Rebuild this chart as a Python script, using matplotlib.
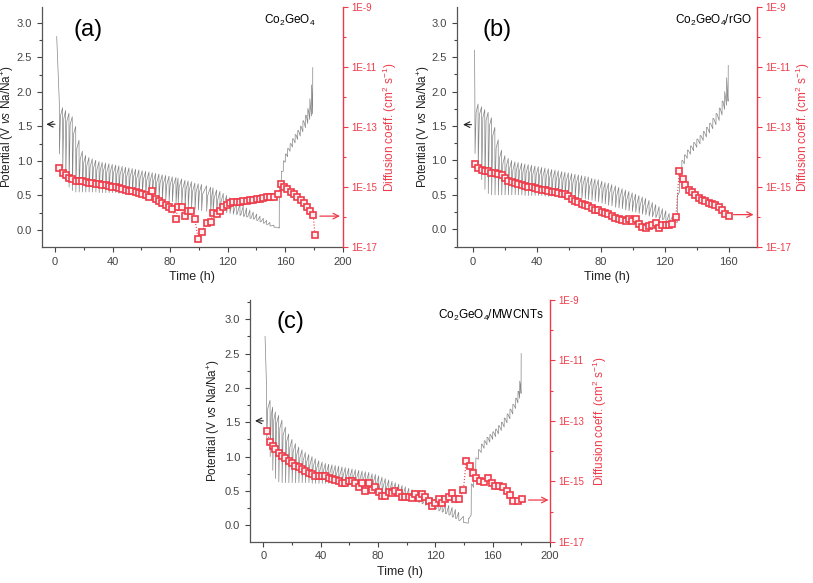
import numpy as np
import matplotlib.pyplot as plt
from matplotlib.ticker import MultipleLocator, FixedLocator, FuncFormatter, NullFormatter

plt.rcParams['font.family'] = ['Liberation Sans', 'DejaVu Sans']
plt.rcParams['mathtext.fontset'] = 'custom'
plt.rcParams['mathtext.rm'] = 'Liberation Sans'
plt.rcParams['mathtext.it'] = 'Liberation Sans:italic'

RED = '#ee3b4a'
GREY = '#858585'
DIP = 0.12  # how far below the new OCV the relaxation line lands

# ---------------- (a) Co2GeO4 ----------------
a_start = (1.2, 2.80)
a_t_dis = [3.0, 5.3, 7.4, 9.7, 12.0, 14.4, 16.7, 19.0, 21.3, 23.6,
           25.9, 28.3, 30.6, 32.8, 35.2, 37.5, 39.8, 42.2, 44.4, 46.7,
           49.1, 51.4, 53.7, 56.0, 58.3, 60.6, 63.0, 65.3, 67.6, 69.9,
           72.2, 74.5, 76.9, 79.2, 81.5, 84.0, 85.5, 88.0, 90.3, 92.5,
           94.8, 97.2, 99.5, 101.8, 105.3, 108.1, 109.8, 112.3, 114.6, 116.9,
           119.2, 121.5, 123.8, 126.2, 128.5, 130.8, 133.1, 135.4, 137.7, 140.1,
           142.4, 144.7, 147.0, 149.3, 152.1, 155.1]
a_v_top = [1.85, 1.77, 1.73, 1.69, 1.64, 1.50, 1.30, 1.14, 1.08, 1.05,
           1.03, 1.01, 0.99, 0.98, 0.97, 0.96, 0.95, 0.94, 0.93, 0.92,
           0.91, 0.90, 0.89, 0.88, 0.87, 0.86, 0.85, 0.84, 0.83, 0.82,
           0.81, 0.80, 0.79, 0.78, 0.77, 0.76, 0.75, 0.74, 0.72, 0.71,
           0.70, 0.68, 0.67, 0.66, 0.64, 0.62, 0.61, 0.58, 0.56, 0.53,
           0.50, 0.47, 0.44, 0.41, 0.38, 0.35, 0.32, 0.29, 0.26, 0.23,
           0.20, 0.17, 0.14, 0.11, 0.07, 0.04]
a_v_bot = [1.10, 0.90, 0.72, 0.62, 0.57, 0.55, 0.55, 0.55, 0.55, 0.55,
           0.55, 0.55, 0.54, 0.54, 0.54, 0.54, 0.54, 0.54, 0.53, 0.53,
           0.53, 0.53, 0.53, 0.52, 0.52, 0.52, 0.51, 0.50, 0.49, 0.48,
           0.46, 0.45, 0.44, 0.42, 0.41, 0.39, 0.38, 0.36, 0.34, 0.33,
           0.32, 0.30, 0.29, 0.28, 0.27, 0.27, 0.27, 0.26, 0.26, 0.25,
           0.25, 0.24, 0.23, 0.22, 0.21, 0.20, 0.19, 0.17, 0.16, 0.14,
           0.12, 0.10, 0.08, 0.06, 0.04, 0.03]
a_t_chg = [155.8, 157.2, 158.6, 160.0, 161.6, 163.3, 165.0, 166.8,
           168.6, 170.4, 172.2, 174.0, 175.6, 177.0, 178.2, 179.0]
a_v_low = [0.10, 0.55, 0.85, 0.98, 1.06, 1.14, 1.20, 1.26,
           1.31, 1.36, 1.42, 1.48, 1.54, 1.60, 1.65, 1.68]
a_v_high = [0.60, 0.85, 1.00, 1.10, 1.18, 1.25, 1.32, 1.38,
            1.44, 1.50, 1.58, 1.66, 1.76, 1.90, 2.10, 2.35]
a_d_t = a_t_dis + [156.7, 159.0, 161.3, 163.7, 166.0, 168.3, 170.6, 173.0,
                   175.2, 177.5, 179.4, 180.6]
a_d_log = [-14.38, -14.52, -14.61, -14.69, -14.74, -14.79, -14.80, -14.80, -14.83, -14.86,
           -14.88, -14.89, -14.91, -14.92, -14.94, -14.97, -14.99, -15.01, -15.03, -15.08,
           -15.10, -15.12, -15.14, -15.18, -15.20, -15.23, -15.28, -15.32, -15.12, -15.39,
           -15.47, -15.52, -15.59, -15.66, -15.72, -16.06, -15.66, -15.66, -15.98, -15.80,
           -15.80, -16.07, -16.73, -16.51, -16.19, -16.17, -15.86, -15.90, -15.79, -15.68,
           -15.60, -15.54, -15.51, -15.49, -15.49, -15.47, -15.47, -15.44, -15.43, -15.41,
           -15.39, -15.37, -15.34, -15.32, -15.32, -15.23,
           -14.91, -14.99, -15.08, -15.16, -15.23, -15.32, -15.43, -15.54,
           -15.66, -15.79, -15.92, -16.59]

# ---------------- (b) Co2GeO4/rGO ----------------
b_start = (0.9, 2.60)
b_t_dis = [1.1, 3.1, 5.3, 7.3, 9.4, 11.5, 13.6, 15.7, 17.8, 19.9,
           22.0, 24.1, 26.2, 28.2, 30.4, 32.4, 34.5, 36.6, 38.7, 40.8,
           42.9, 45.0, 47.1, 49.2, 51.3, 53.3, 55.5, 57.5, 59.6, 61.7,
           63.8, 65.9, 68.0, 70.1, 72.1, 74.3, 76.3, 78.4, 80.6, 82.6,
           84.7, 86.8, 89.1, 91.2, 93.3, 95.4, 97.5, 99.6, 101.7, 103.8,
           105.9, 108.0, 110.1, 112.2, 114.3, 116.4, 118.5, 120.6, 122.7, 124.8,
           126.9]
b_v_top = [1.90, 1.82, 1.78, 1.74, 1.70, 1.62, 1.48, 1.30, 1.15, 1.07,
           1.03, 1.00, 0.98, 0.97, 0.96, 0.95, 0.94, 0.93, 0.92, 0.91,
           0.90, 0.89, 0.88, 0.87, 0.86, 0.85, 0.84, 0.83, 0.82, 0.81,
           0.80, 0.79, 0.78, 0.77, 0.76, 0.74, 0.73, 0.72, 0.70, 0.68,
           0.67, 0.65, 0.63, 0.61, 0.59, 0.57, 0.55, 0.53, 0.51, 0.49,
           0.47, 0.45, 0.42, 0.39, 0.36, 0.33, 0.30, 0.27, 0.23, 0.19,
           0.14]
b_v_bot = [1.10, 0.90, 0.72, 0.58, 0.52, 0.50, 0.50, 0.50, 0.50, 0.50,
           0.50, 0.50, 0.50, 0.50, 0.50, 0.49, 0.49, 0.49, 0.49, 0.49,
           0.49, 0.48, 0.48, 0.48, 0.48, 0.48, 0.47, 0.47, 0.47, 0.46,
           0.46, 0.45, 0.45, 0.44, 0.43, 0.42, 0.41, 0.40, 0.38, 0.37,
           0.35, 0.34, 0.32, 0.31, 0.30, 0.28, 0.27, 0.26, 0.25, 0.23,
           0.22, 0.21, 0.19, 0.18, 0.17, 0.15, 0.14, 0.13, 0.12, 0.11,
           0.10]
b_t_chg = [127.8, 129.2, 130.6, 132.2, 134.0, 136.0, 138.0, 140.0, 142.0, 144.0,
           146.0, 148.0, 150.0, 152.0, 154.0, 155.8, 157.4, 158.6, 159.6]
b_v_low = [0.10, 0.55, 0.82, 0.95, 1.03, 1.09, 1.14, 1.19, 1.24, 1.29,
           1.34, 1.40, 1.46, 1.52, 1.58, 1.66, 1.74, 1.80, 1.86]
b_v_high = [0.50, 0.85, 1.00, 1.08, 1.15, 1.21, 1.26, 1.31, 1.36, 1.42,
            1.48, 1.54, 1.61, 1.68, 1.76, 1.86, 2.00, 2.20, 2.38]
b_d_t = b_t_dis + [129.0, 131.1, 132.8, 134.9, 137.0, 139.1, 141.2, 143.3,
                   145.4, 147.4, 149.6, 151.6, 153.7, 155.8, 157.9, 160.0]
b_d_log = [-14.24, -14.35, -14.42, -14.46, -14.48, -14.52, -14.54, -14.58, -14.61, -14.69,
           -14.80, -14.84, -14.88, -14.90, -14.93, -14.97, -14.99, -15.01, -15.03, -15.05,
           -15.09, -15.11, -15.13, -15.15, -15.18, -15.20, -15.22, -15.24, -15.31, -15.40,
           -15.45, -15.49, -15.56, -15.60, -15.64, -15.69, -15.75, -15.78, -15.82, -15.87,
           -15.91, -15.96, -16.02, -16.07, -16.10, -16.12, -16.08, -16.12, -16.06, -16.22,
           -16.34, -16.36, -16.29, -16.26, -16.21, -16.36, -16.27, -16.28, -16.26, -16.22,
           -16.00,
           -14.47, -14.72, -14.94, -15.09, -15.18, -15.28, -15.36, -15.42,
           -15.48, -15.52, -15.56, -15.61, -15.68, -15.78, -15.91, -15.98]

# ---------------- (c) Co2GeO4/MWCNTs ----------------
c_start = (1.2, 2.75)
c_t_dis = [2.3, 4.7, 6.5, 8.4, 10.7, 13.0, 15.4, 17.7, 20.0, 22.4,
           24.7, 27.0, 29.3, 31.7, 34.0, 36.3, 38.7, 41.0, 43.3, 45.6,
           47.9, 50.2, 52.6, 54.9, 57.2, 59.6, 61.9, 64.2, 66.6, 68.9,
           71.2, 73.6, 75.9, 78.2, 80.5, 82.8, 85.1, 87.5, 89.8, 92.1,
           94.5, 96.8, 99.1, 101.5, 103.8, 106.1, 108.4, 110.7, 113.1, 115.4,
           117.7, 120.0, 122.4, 124.7, 127.0, 129.4, 131.7, 134.0, 136.3, 139.6]
c_v_top = [1.97, 1.82, 1.72, 1.65, 1.60, 1.53, 1.43, 1.33, 1.25, 1.19,
           1.14, 1.10, 1.06, 1.03, 1.00, 0.97, 0.94, 0.92, 0.90, 0.89,
           0.88, 0.87, 0.86, 0.85, 0.84, 0.83, 0.82, 0.81, 0.80, 0.79,
           0.78, 0.77, 0.75, 0.74, 0.72, 0.70, 0.68, 0.66, 0.64, 0.62,
           0.60, 0.58, 0.56, 0.54, 0.52, 0.50, 0.48, 0.46, 0.44, 0.42,
           0.40, 0.38, 0.36, 0.34, 0.32, 0.29, 0.26, 0.23, 0.19, 0.13]
c_v_bot = [1.24, 1.00, 0.80, 0.68, 0.63, 0.62, 0.62, 0.62, 0.62, 0.62,
           0.62, 0.62, 0.62, 0.62, 0.61, 0.61, 0.61, 0.61, 0.61, 0.61,
           0.61, 0.60, 0.60, 0.60, 0.59, 0.59, 0.58, 0.57, 0.56, 0.55,
           0.54, 0.53, 0.52, 0.51, 0.50, 0.49, 0.48, 0.47, 0.46, 0.45,
           0.44, 0.42, 0.41, 0.39, 0.37, 0.35, 0.33, 0.31, 0.29, 0.27,
           0.25, 0.23, 0.21, 0.19, 0.17, 0.15, 0.12, 0.10, 0.07, 0.04]
c_t_chg = [143.0, 145.0, 146.6, 148.2, 150.0, 152.0, 154.0, 156.0, 158.0, 160.0,
           162.0, 164.0, 166.0, 168.0, 170.0, 172.0, 174.0, 176.0, 177.6, 178.8, 179.8]
c_v_low = [0.03, 0.15, 0.55, 0.80, 0.96, 1.06, 1.12, 1.17, 1.21, 1.25,
           1.29, 1.33, 1.38, 1.43, 1.49, 1.55, 1.62, 1.70, 1.78, 1.85, 1.92]
c_v_high = [0.10, 0.60, 0.82, 0.98, 1.10, 1.18, 1.23, 1.28, 1.32, 1.36,
            1.40, 1.45, 1.50, 1.56, 1.62, 1.69, 1.76, 1.85, 1.95, 2.10, 2.50]
c_d_t = c_t_dis + [141.5, 144.2, 146.6, 148.4, 151.2, 154.2, 157.0, 159.4,
                   161.7, 164.5, 167.5, 169.9, 172.2, 174.5, 177.5, 180.3]
c_d_log = [-13.34, -13.69, -13.83, -13.94, -14.06, -14.16, -14.24, -14.32, -14.41, -14.49,
           -14.54, -14.60, -14.66, -14.72, -14.77, -14.82, -14.82, -14.82, -14.83, -14.90,
           -14.94, -14.96, -14.99, -15.05, -15.07, -14.99, -15.00, -15.05, -15.18, -15.04,
           -15.32, -15.07, -15.29, -15.18, -15.35, -15.49, -15.49, -15.35, -15.38, -15.32,
           -15.38, -15.51, -15.51, -15.51, -15.55, -15.43, -15.55, -15.43, -15.51, -15.66,
           -15.82, -15.73, -15.57, -15.71, -15.60, -15.51, -15.40, -15.60, -15.60, -15.29,
           -14.32, -14.50, -14.74, -14.90, -14.98, -15.02, -14.90, -15.05,
           -15.16, -15.16, -15.20, -15.32, -15.47, -15.66, -15.66, -15.57]


def gitt_trace(start, t_dis, top, bot, t_chg, low, high):
    # discharge: pulse drops from OCV, rest brings it back up
    xs, ys = [start[0]], [start[1]]
    for i in range(len(t_dis)):
        nxt = top[i + 1] if i + 1 < len(top) else low[0]
        xs += [t_dis[i], t_dis[i] + 0.1, t_dis[i] + 0.8]
        ys += [top[i], bot[i], max(nxt - DIP, bot[i])]
    # charge: pulse raises, rest relaxes down
    for j in range(len(t_chg)):
        xs += [t_chg[j], t_chg[j] + 0.1]
        ys += [low[j], high[j]]
        if j + 1 < len(t_chg):
            xs.append(t_chg[j] + 0.6)
            ys.append(min(low[j + 1] + DIP, high[j]))
    return xs, ys


def panel(rect, xlim, ylim, start, t_dis, top, bot, t_chg, low, high,
          d_t, d_log, letter, letter_pos, name, name_pos, arr_left, arr_right, lab_x):
    ax = fig.add_axes(rect)
    xs, ys = gitt_trace(start, t_dis, top, bot, t_chg, low, high)
    ax.plot(xs, ys, color=GREY, lw=0.5)
    ax.set_xlim(*xlim)
    ax.set_ylim(*ylim)
    ax.xaxis.set_major_locator(MultipleLocator(40))
    ax.xaxis.set_minor_locator(MultipleLocator(20))
    ax.yaxis.set_major_locator(MultipleLocator(0.5))
    ax.yaxis.set_minor_locator(MultipleLocator(0.25))
    ax.yaxis.set_major_formatter(FuncFormatter(lambda v, p: '%.1f' % v))
    ax.tick_params(which='both', direction='out', colors='#444444', labelsize=8, width=0.8)
    ax.tick_params(which='major', length=3.5)
    ax.tick_params(which='minor', length=2)
    ax.spines['top'].set_visible(False)
    ax.spines['right'].set_visible(False)
    for s in ('left', 'bottom'):
        ax.spines[s].set_color('#555555')
        ax.spines[s].set_linewidth(0.9)
    ax.set_xlabel('Time (h)', fontsize=9, labelpad=3, color='#222222')
    ax.set_ylabel('Potential (V $\\it{vs}$ Na/Na$^{+}$)', fontsize=8.5, color='#222222')
    ax.yaxis.label.set_verticalalignment('center')
    ax.yaxis.set_label_coords(lab_x[0], 0.5)
    ax.text(letter_pos[0], letter_pos[1], letter, transform=ax.transAxes,
            fontsize=17, ha='center', va='center')
    ax.text(name_pos[0], name_pos[1], name, transform=ax.transAxes,
            fontsize=8.5, ha='right', va='center')
    ax.annotate('', xy=(arr_left[1], arr_left[2]), xytext=(arr_left[0], arr_left[2]),
                arrowprops=dict(arrowstyle='->', color='#222222', lw=0.8,
                                shrinkA=0, shrinkB=0),
                annotation_clip=False)

    ax2 = ax.twinx()
    ax2.plot(d_t, 10 ** np.array(d_log), ls=':', lw=0.8, color=RED, marker='s',
             ms=5, mfc='#fff0f2', mec=RED, mew=1.2)
    ax2.set_yscale('log')
    ax2.set_ylim(1e-17, 1e-9)
    ax2.yaxis.set_major_locator(FixedLocator([1e-17, 1e-15, 1e-13, 1e-11, 1e-9]))
    ax2.yaxis.set_minor_locator(FixedLocator([1e-16, 1e-14, 1e-12, 1e-10]))
    ax2.yaxis.set_major_formatter(FuncFormatter(lambda v, p: '1E%d' % round(np.log10(v))))
    ax2.yaxis.set_minor_formatter(NullFormatter())
    ax2.tick_params(which='both', direction='out', colors=RED, labelsize=7, width=0.8)
    ax2.tick_params(which='major', length=3.5, pad=2.5)
    ax2.tick_params(which='minor', length=2)
    ax2.spines['right'].set_color(RED)
    ax2.spines['right'].set_linewidth(1.0)
    for s in ('top', 'left', 'bottom'):
        ax2.spines[s].set_visible(False)
    ax2.set_ylabel('Diffusion coeff. (cm$^{2}$ s$^{-1}$)', fontsize=8.5, color=RED)
    ax2.yaxis.label.set_verticalalignment('center')
    ax2.yaxis.set_label_coords(lab_x[1], 0.5)
    ax2.annotate('', xy=(arr_right[1], 10 ** arr_right[2]), xytext=(arr_right[0], 10 ** arr_right[2]),
                 arrowprops=dict(arrowstyle='->', color=RED, lw=0.9, shrinkA=0, shrinkB=0),
                 annotation_clip=False)
    return ax, ax2


fig = plt.figure(figsize=(8.13, 5.83), dpi=100)

panel([0.0517, 0.5763, 0.370, 0.4117], (-9, 200), (-0.246, 3.227),
      a_start, a_t_dis, a_v_top, a_v_bot, a_t_chg, a_v_low, a_v_high,
      a_d_t, a_d_log, '(a)', (0.153, 0.904), 'Co$_2$GeO$_4$', (0.91, 0.946),
      (0, -6, 1.53), (184, 198, -15.97), (-0.113, 1.156))
panel([0.5617, 0.5763, 0.370, 0.4117], (-10.3, 178), (-0.257, 3.228),
      b_start, b_t_dis, b_v_top, b_v_bot, b_t_chg, b_v_low, b_v_high,
      b_d_t, b_d_log, '(b)', (0.133, 0.904), 'Co$_2$GeO$_4$/rGO', (0.98, 0.946),
      (-1, -6.3, 1.52), (163, 175.6, -15.92), (-0.111, 1.152))
panel([0.3075, 0.0708, 0.369, 0.4146], (-9.3, 200), (-0.24, 3.28),
      c_start, c_t_dis, c_v_top, c_v_bot, c_t_chg, c_v_low, c_v_high,
      c_d_t, c_d_log, '(c)', (0.136, 0.91), 'Co$_2$GeO$_4$/MWCNTs', (0.978, 0.938),
      (0, -5.8, 1.52), (185, 199, -15.62), (-0.122, 1.167))

fig.savefig('out.png', dpi=100)
